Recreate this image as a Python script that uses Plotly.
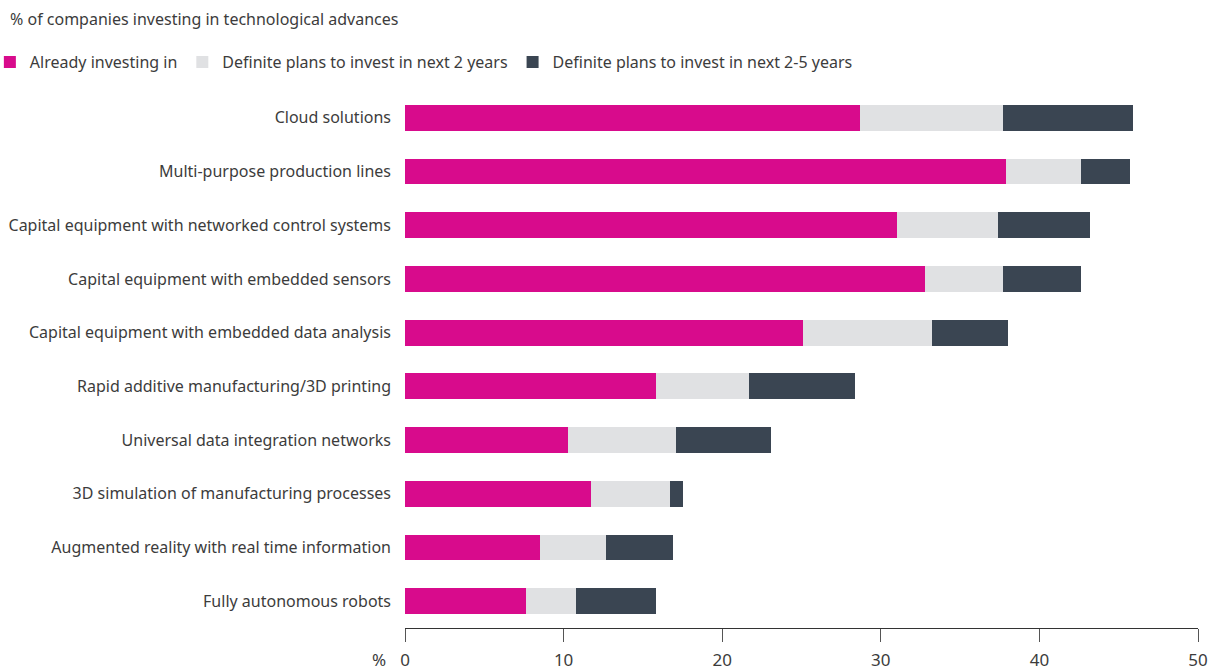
import plotly.graph_objects as go

categories = [
    "Cloud solutions",
    "Multi-purpose production lines",
    "Capital equipment with networked control systems",
    "Capital equipment with embedded sensors",
    "Capital equipment with embedded data analysis",
    "Rapid additive manufacturing/3D printing",
    "Universal data integration networks",
    "3D simulation of manufacturing processes",
    "Augmented reality with real time information",
    "Fully autonomous robots",
]
already = [28.7, 37.9, 31.0, 32.8, 25.1, 15.8, 10.3, 11.7, 8.5, 7.6]
plans_2y = [9.0, 4.7, 6.4, 4.9, 8.1, 5.9, 6.8, 5.0, 4.2, 3.2]
plans_2_5y = [8.2, 3.1, 5.8, 4.9, 4.8, 6.7, 6.0, 0.8, 4.2, 5.0]

series_names = [
    "Already investing in",
    "Definite plans to invest in next 2 years",
    "Definite plans to invest in next 2-5 years",
]
colors = ["#D80B8C", "#E0E1E3", "#3A4552"]
x_ticks = [0, 10, 20, 30, 40, 50]

FONT = "Noto Sans"
TXT = "#3c3c3c"

n = len(categories)
boundaries = [i - 0.5 for i in range(n + 1)]

fig = go.Figure()
for name, vals, col in zip(series_names, [already, plans_2y, plans_2_5y], colors):
    fig.add_trace(go.Bar(
        y=categories, x=vals, name=name, orientation="h",
        marker=dict(color=col, line=dict(width=0)),
    ))

fig.update_layout(
    barmode="stack",
    bargap=0.52,
    width=1219, height=670,
    margin=dict(l=405, r=21, t=91, b=42, autoexpand=False),
    paper_bgcolor="white", plot_bgcolor="white",
    font=dict(family=FONT, size=16, color=TXT),
    title=dict(
        text="% of companies investing in technological advances",
        xref="container", yref="container", x=10 / 1219, xanchor="left",
        y=1 - 14 / 670, yanchor="top", pad=dict(t=0, b=0, l=0, r=0),
        font=dict(size=16, color=TXT),
    ),
    showlegend=True,
    legend=dict(
        orientation="h", xref="paper", yref="paper",
        x=-0.5235, xanchor="left", y=1.0857, yanchor="top",
        font=dict(size=16, color=TXT), traceorder="normal",
        itemclick=False, bgcolor="rgba(0,0,0,0)",
    ),
    xaxis=dict(
        range=[0, 50], tickvals=x_ticks, ticks="outside", ticklen=13,
        tickcolor="#555", showline=True, linecolor="#333", linewidth=1,
        showgrid=False, zeroline=False, tickfont=dict(size=17, color=TXT),
        ticklabelstandoff=4, fixedrange=True,
    ),
    yaxis=dict(
        autorange="reversed", ticks="", showline=False,
        showgrid=False, tickfont=dict(size=16, color=TXT), fixedrange=True,
        ticklabelstandoff=13, automargin=False,
    ),
    yaxis2=dict(
        overlaying="y", side="left", range=[n - 0.5, -0.5],
        tickvals=boundaries, ticktext=[""] * len(boundaries),
        ticks="outside", ticklen=12, tickcolor="#555",
        showline=True, linecolor="#777", linewidth=1,
        showgrid=False, zeroline=False, fixedrange=True, automargin=False,
    ),
    annotations=[
        dict(text="%", xref="paper", yref="paper", x=0, y=0, xanchor="right",
             yanchor="top", xshift=-17, yshift=-18, showarrow=False,
             font=dict(size=17, color=TXT)),
    ],
)

fig.write_html("out.html")
